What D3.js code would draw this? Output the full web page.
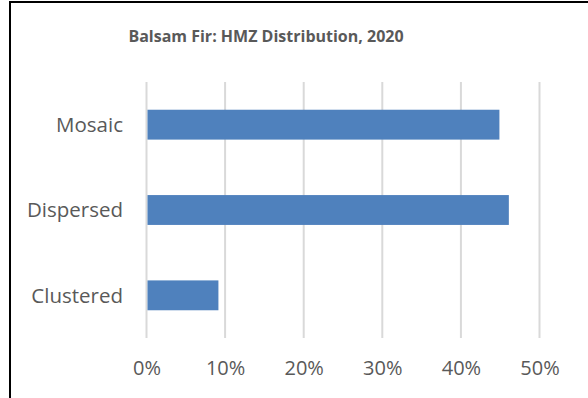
<!DOCTYPE html>
<html>
<head>
<meta charset="utf-8">
<script src="https://cdn.jsdelivr.net/npm/d3@7"></script>
<style>
  html, body { margin: 0; padding: 0; background: #fff; }
  svg { display: block; }
  text { font-family: "Open Sans", sans-serif; fill: #595959; }
</style>
</head>
<body>
<svg id="chart" width="588" height="398"></svg>
<script>
// Balsam fir HMZ distribution shares, 2020
const categories = ["Mosaic", "Dispersed", "Clustered"];
const shares = [0.449, 0.461, 0.0915];
const tickValues = [0, 0.1, 0.2, 0.3, 0.4, 0.5];
const titleText = "Balsam Fir: HMZ Distribution, 2020";

const svg = d3.select("#chart");
const W = 588, H = 398;
const FONT = "'Open Sans', sans-serif";

// chart area frame (top and left edges visible)
svg.append("rect").attr("x", 10).attr("y", 2).attr("width", W + 10).attr("height", H + 10)
  .attr("fill", "#fff").attr("stroke", "#000").attr("stroke-width", 2);

const plot = { left: 146.5, right: 539.5, top: 82, bottom: 338 };

const x = d3.scaleLinear().domain([0, 0.5]).range([plot.left, plot.right]);
const y = d3.scaleBand().domain(categories).range([plot.top, plot.bottom])
  .paddingInner(0.65).paddingOuter(0.325);

// vertical gridlines
svg.append("g").selectAll("line").data(tickValues).join("line")
  .attr("x1", d => x(d)).attr("x2", d => x(d))
  .attr("y1", plot.top).attr("y2", plot.bottom)
  .attr("stroke", "#d9d9d9").attr("stroke-width", 2);

// bars
svg.append("g").selectAll("rect").data(categories).join("rect")
  .attr("x", x(0) + 1)
  .attr("y", d => y(d))
  .attr("width", (d, i) => x(shares[i]) - x(0) - 1)
  .attr("height", y.bandwidth())
  .attr("fill", "#4f81bd");

// x axis tick labels
const xAxis = d3.axisBottom(x).tickValues(tickValues).tickFormat(d3.format(".0%")).tickSize(0).tickPadding(0);
const gx = svg.append("g").attr("transform", `translate(0,${plot.bottom})`).call(xAxis);
gx.select(".domain").remove();
gx.selectAll("text").attr("dy", null).attr("y", 37).attr("font-size", 20)
  .style("font-family", FONT).attr("fill", "#595959");

// y axis category labels
const yAxis = d3.axisLeft(y).tickSize(0).tickPadding(0);
const gy = svg.append("g").attr("transform", `translate(123,0)`).call(yAxis);
gy.select(".domain").remove();
gy.selectAll("text").attr("dy", "0.35em").attr("font-size", 20.5)
  .style("font-family", FONT).attr("fill", "#595959");

// title
svg.append("text").attr("x", 266).attr("y", 42).attr("text-anchor", "middle")
  .attr("font-size", 16).attr("font-weight", "bold").text(titleText);
</script>
</body>
</html>
